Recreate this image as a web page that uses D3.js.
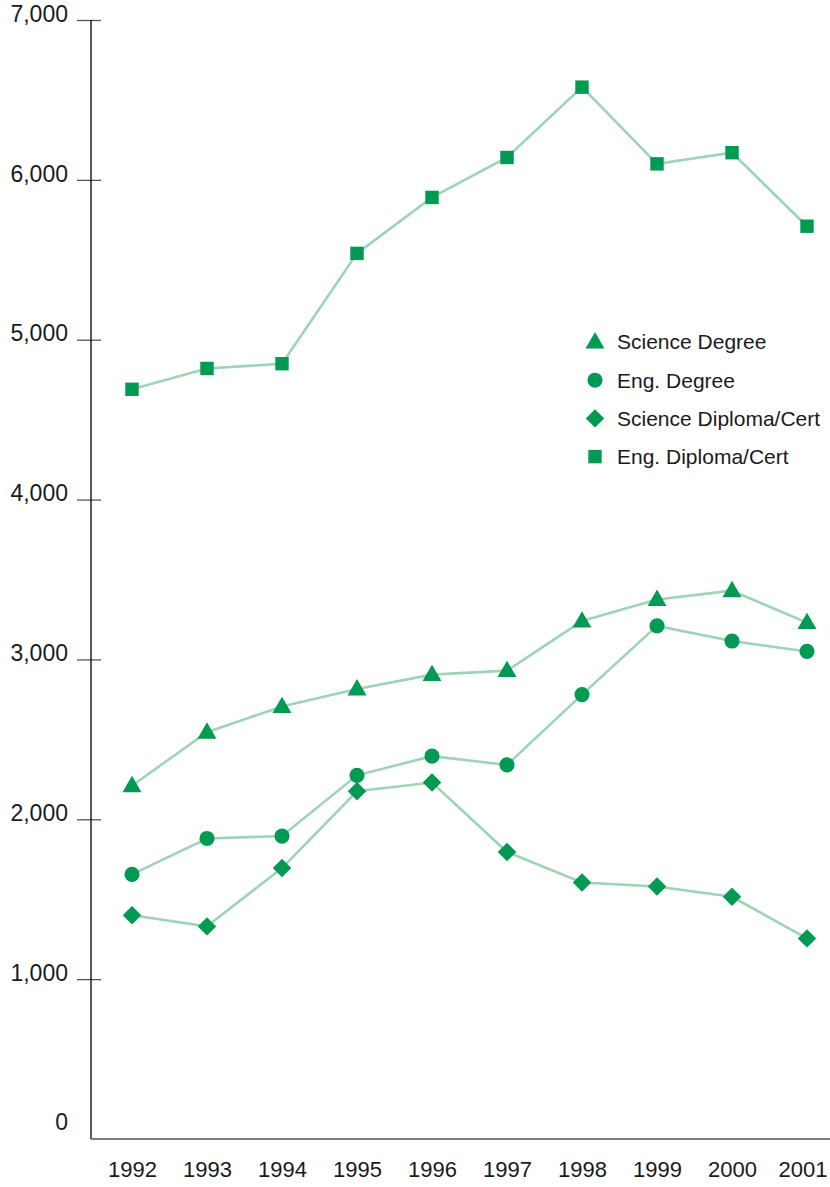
<!DOCTYPE html>
<html>
<head>
<meta charset="utf-8">
<script src="https://cdn.jsdelivr.net/npm/d3@7/dist/d3.min.js"></script>
<style>
  html, body { margin: 0; padding: 0; background: #fff; }
  svg { display: block; }
  text { font-family: "Liberation Sans", Arial, sans-serif; fill: #1a1a1a; }
</style>
</head>
<body>
<svg id="chart" width="830" height="1187"></svg>
<script>
const years = ["1992","1993","1994","1995","1996","1997","1998","1999","2000","2001"];
const yTicks = [0, 1000, 2000, 3000, 4000, 5000, 6000, 7000];
const scienceDegree = [2210, 2545, 2705, 2815, 2905, 2930, 3240, 3375, 3430, 3230];
const engDegree     = [1655, 1880, 1895, 2275, 2395, 2340, 2780, 3210, 3115, 3050];
const scienceDiploma= [1400, 1330, 1695, 2175, 2230, 1795, 1605, 1580, 1515, 1255];
const engDiploma    = [4690, 4820, 4850, 5540, 5890, 6140, 6580, 6100, 6170, 5710];
const seriesNames = ["Science Degree", "Eng. Degree", "Science Diploma/Cert", "Eng. Diploma/Cert"];
const seriesShapes = ["triangle", "circle", "diamond", "square"];

const markerColor = "#009a52";
const lineColor = "#9fd3b5";

const svg = d3.select("#chart");
const x = d3.scalePoint().domain(years).range([132, 807]);
const y = d3.scaleLinear().domain([0, 7000]).range([1139, 20]);

// Y axis
const yAxis = svg.append("g").attr("transform", "translate(91,0)")
  .call(d3.axisLeft(y).tickValues(yTicks).tickSize(14).tickSizeOuter(0)
    .tickFormat(d3.format(",")));
yAxis.select(".domain").remove();
yAxis.selectAll(".tick line").attr("x1", 10).attr("x2", -14)
  .attr("stroke", "#555").attr("stroke-width", 1.3)
  .filter(d => d === 0).remove();
yAxis.selectAll(".tick text").attr("x", -23)
  .attr("dy", d => d === 0 ? "-0.4em" : "0.05em")
  .style("font-size", "23px").attr("fill", "#1a1a1a");
svg.append("line").attr("x1", 91).attr("x2", 91).attr("y1", y(7000)).attr("y2", y(0))
  .attr("stroke", "#111").attr("stroke-width", 1.4);

// X axis
const xAxis = svg.append("g").attr("transform", `translate(0,${y(0)})`)
  .call(d3.axisBottom(x).tickSize(0).tickPadding(22));
xAxis.select(".domain").remove();
xAxis.selectAll(".tick text").style("font-size", "22px").attr("fill", "#1a1a1a")
  .each(function(d) {
    const b = this.getBBox();
    const right = x(d) + b.x + b.width;
    if (right > 827) d3.select(this).attr("dx", 827 - right);
  });
svg.append("line").attr("x1", 91).attr("x2", 830).attr("y1", y(0)).attr("y2", y(0))
  .attr("stroke", "#555").attr("stroke-width", 1.6);

const symbolFor = {
  triangle: d3.symbol().type(d3.symbolTriangle).size(155),
  circle: d3.symbol().type(d3.symbolCircle).size(180),
  diamond: d3.symbol().type(d3.symbolSquare).size(170),
  square: d3.symbol().type(d3.symbolSquare).size(180)
};
function drawMarker(g, shape, cx, cy) {
  const p = g.append("path").attr("d", symbolFor[shape]()).attr("fill", markerColor);
  if (shape === "diamond") p.attr("transform", `translate(${cx},${cy}) rotate(45)`);
  else if (shape === "triangle") p.attr("transform", `translate(${cx},${cy + 1})`);
  else p.attr("transform", `translate(${cx},${cy})`);
}

const allSeries = [scienceDegree, engDegree, scienceDiploma, engDiploma];
const line = d3.line().x((d, i) => x(years[i])).y(d => y(d));
allSeries.forEach(vals => {
  svg.append("path").attr("d", line(vals)).attr("fill", "none")
    .attr("stroke", lineColor).attr("stroke-width", 2.6);
});
allSeries.forEach((vals, si) => {
  const g = svg.append("g");
  vals.forEach((v, i) => drawMarker(g, seriesShapes[si], x(years[i]), y(v)));
});

// Legend
const legend = svg.append("g");
seriesNames.forEach((name, i) => {
  const cy = 342 + i * 38.2;
  drawMarker(legend, seriesShapes[i], 595, cy);
  legend.append("text").attr("x", 617).attr("y", cy).attr("dy", "0.35em")
    .style("font-size", "21px").text(name);
});
</script>
</body>
</html>
